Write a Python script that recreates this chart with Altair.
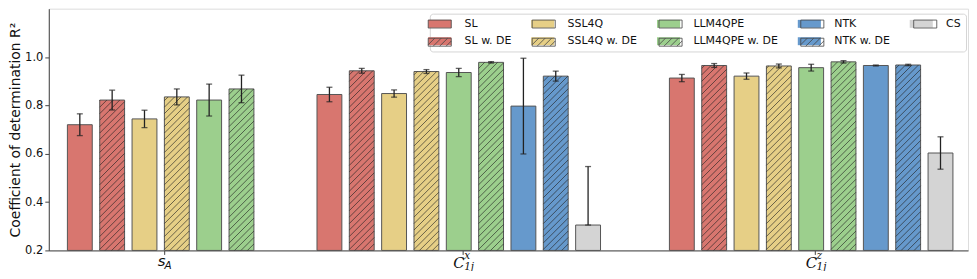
import altair as alt
import pandas as pd

# ---------------- data ----------------
methods = ["SL", "SL w. DE", "SSL4Q", "SSL4Q w. DE", "LLM4QPE", "LLM4QPE w. DE",
           "NTK", "NTK w. DE", "CS"]
colors = {"SL": "#d8766f", "SL w. DE": "#d8766f",
          "SSL4Q": "#e6cf86", "SSL4Q w. DE": "#e6cf86",
          "LLM4QPE": "#9ccf8d", "LLM4QPE w. DE": "#9ccf8d",
          "NTK": "#6699cc", "NTK w. DE": "#6699cc",
          "CS": "#d4d4d4"}

group_keys = ["sA", "Cx", "Cz"]
group_main = ["s", "C", "C"]
group_sup = ["", "x", "z"]
group_sub = ["A", "1j", "1j"]
group_font = ["sans", "cal", "cal"]

sA_values = [0.720, 0.822, 0.744, 0.835, 0.822, 0.868]
sA_err_lo = [0.045, 0.041, 0.036, 0.033, 0.066, 0.057]
sA_err_hi = [0.045, 0.041, 0.036, 0.033, 0.066, 0.057]

Cx_values = [0.845, 0.943, 0.849, 0.940, 0.936, 0.978, 0.797, 0.921, 0.305]
Cx_err_lo = [0.030, 0.010, 0.015, 0.008, 0.017, 0.003, 0.198, 0.021, 0.000]
Cx_err_hi = [0.030, 0.010, 0.015, 0.008, 0.017, 0.003, 0.198, 0.021, 0.242]

Cz_values = [0.913, 0.965, 0.921, 0.963, 0.956, 0.980, 0.965, 0.967, 0.603]
Cz_err_lo = [0.015, 0.008, 0.013, 0.008, 0.014, 0.005, 0.002, 0.003, 0.067]
Cz_err_hi = [0.015, 0.008, 0.013, 0.008, 0.014, 0.005, 0.002, 0.003, 0.067]

# ---------------- layout constants ----------------
PLOT_W, PLOT_H = 924, 243
SLOT_PX = 32.5                      # px per bar slot
X_MAX = PLOT_W / SLOT_PX
Y_MIN, Y_MAX = 0.2, 1.2
PX_PER_Y = PLOT_H / (Y_MAX - Y_MIN)
BAR_W = 25 / SLOT_PX                # bar width in slot units
group_ticks = [3.58, 12.80, 23.70]  # group centres in slot units
TICK_SHIFT = 0.12
HATCH_PX = 6.5

# ---------------- build tables ----------------
rows = []
for key, tick, vals, elo, ehi in zip(group_keys, group_ticks,
                                    [sA_values, Cx_values, Cz_values],
                                    [sA_err_lo, Cx_err_lo, Cz_err_lo],
                                    [sA_err_hi, Cx_err_hi, Cz_err_hi]):
    n = len(vals)
    for k, (v, lo, hi) in enumerate(zip(vals, elo, ehi)):
        pos = tick - TICK_SHIFT + (k - (n - 1) / 2)
        rows.append(dict(group=key, method=methods[k], pos=pos,
                         x0=pos - BAR_W / 2, x1=pos + BAR_W / 2,
                         value=v, lo=v - lo, hi=v + hi,
                         hatched=methods[k].endswith("w. DE")))
bars = pd.DataFrame(rows)

# hatch segments ("///") clipped to each hatched bar, derived from bar extents
hseg = []
for r in bars[bars.hatched].itertuples():
    W = BAR_W * SLOT_PX
    H = (r.value - Y_MIN) * PX_PER_Y
    X0 = r.x0 * SLOT_PX
    t = -W
    while t < H:
        ys, ye = max(t, 0.0), min(t + W, H)
        if ys < ye:
            hseg.append(dict(hx=(X0 + ys - t) / SLOT_PX, hx2=(X0 + ye - t) / SLOT_PX,
                             hy=Y_MIN + ys / PX_PER_Y, hy2=Y_MIN + ye / PX_PER_Y))
        t += HATCH_PX
hatch = pd.DataFrame(hseg)

labels = pd.DataFrame(dict(tick=group_ticks, main=group_main, sup=group_sup,
                           sub=group_sub, font=group_font))

# legend patch paths (symbolSize 64 -> 4 px per path unit)
HW, HH = 2.9, 1.0
plain_path = f"M{-HW},{-HH}H{HW}V{HH}H{-HW}Z"
segs = []
t = -HW - 2
while t < HW:
    s0 = max(0.0, (-HW - t) / 2)
    s1 = min(1.0, (HW - t) / 2)
    if s0 < s1:
        segs.append(f"M{t + 2 * s0:.3f},{HH - 2 * s0:.3f}L{t + 2 * s1:.3f},{HH - 2 * s1:.3f}")
    t += HATCH_PX / 4
hatch_path = plain_path + "".join(segs)
# outline legend: one extra blank entry keeps it a separate legend from the colour one
outline_domain = methods + [" "]
outline_range = [hatch_path if m.endswith("w. DE") else plain_path for m in methods] + ["M0,0"]

# ---------------- chart ----------------
xscale = alt.Scale(domain=[0, X_MAX], nice=False, zero=False)
yscale = alt.Scale(domain=[Y_MIN, Y_MAX], nice=False, zero=False)
cscale = alt.Scale(domain=methods, range=[colors[m] for m in methods])
bar_order = sorted(methods)
fscale = alt.Scale(domain=bar_order, range=[colors[m] for m in bar_order])

common = dict(title=None, orient="none", legendX=383, legendY=5, columns=5,
              symbolSize=64, symbolOpacity=1, labelFontSize=11, labelFont="DejaVu Sans",
              labelColor="#111", labelOffset=19.5, columnPadding=18.5,
              rowPadding=5.7, padding=4.5)
color_legend = alt.Legend(**common, strokeColor="#d5d5d5", fillColor="white",
                          cornerRadius=3)
outline_legend = alt.Legend(**common, labelOpacity=0, symbolStrokeWidth=0.8)

base = alt.Chart(bars)

bar_layer = base.mark_bar(stroke="#555", strokeWidth=1, opacity=1).encode(
    x=alt.X("x0:Q", scale=xscale,
            axis=alt.Axis(values=group_ticks, labels=False, title=None, tickSize=4,
                          grid=False, domainColor="#444", tickColor="#444")),
    x2="x1:Q",
    y=alt.Y("value:Q", scale=yscale,
            axis=alt.Axis(values=[0.2, 0.4, 0.6, 0.8, 1.0], format=".1f", grid=False,
                          title="Coefficient of determination R²", titleFontSize=14,
                          titleFontWeight="normal", titleFont="DejaVu Sans",
                          titlePadding=2, labelFontSize=11.5, labelFont="DejaVu Sans",
                          labelColor="#111", tickSize=4, domainColor="#444",
                          tickColor="#444", labelPadding=2, titleColor="#111")),
    y2=alt.Y2(datum=Y_MIN),
    fill=alt.Fill("method:N", scale=fscale, legend=None),
)

hatch_layer = alt.Chart(hatch).mark_rule(color="#222", strokeWidth=0.8, opacity=0.8).encode(
    x=alt.X("hx:Q", scale=xscale), x2="hx2:Q",
    y=alt.Y("hy:Q", scale=yscale), y2="hy2:Q",
)

err_layer = base.mark_rule(color="#222", strokeWidth=1.3).encode(
    x=alt.X("pos:Q", scale=xscale), y=alt.Y("lo:Q", scale=yscale), y2="hi:Q")
cap_hi = base.mark_tick(color="#222", thickness=1.3, size=6, orient="horizontal").encode(
    x=alt.X("pos:Q", scale=xscale), y=alt.Y("hi:Q", scale=yscale))
cap_lo = base.mark_tick(color="#222", thickness=1.3, size=6, orient="horizontal").encode(
    x=alt.X("pos:Q", scale=xscale), y=alt.Y("lo:Q", scale=yscale))

# colour legend (filled patches) - invisible points
legend_fill_layer = base.mark_point(filled=True, opacity=0, shape=plain_path).encode(
    x=alt.X("pos:Q", scale=xscale), y=alt.Y("value:Q", scale=yscale),
    color=alt.Color("method:N", scale=cscale, legend=color_legend),
)
# outline + hatch legend drawn on top of the colour legend
legend_outline_layer = base.mark_point(filled=False, opacity=0, color="#444",
                                       strokeWidth=0.8).encode(
    x=alt.X("pos:Q", scale=xscale), y=alt.Y("value:Q", scale=yscale),
    shape=alt.Shape("method:N", scale=alt.Scale(domain=outline_domain, range=outline_range),
                    legend=outline_legend),
)

lab = alt.Chart(labels)
main_sans = lab.transform_filter(alt.datum.font == "sans").mark_text(
    font="DejaVu Sans", fontStyle="italic", fontSize=15, align="right", baseline="alphabetic",
    dx=1, dy=16, color="#111").encode(
    x=alt.X("tick:Q", scale=xscale), y=alt.datum(Y_MIN), text="main:N")
main_cal = lab.transform_filter(alt.datum.font == "cal").mark_text(
    font="DejaVu Serif", fontStyle="italic", fontSize=15, align="right", baseline="alphabetic",
    dx=2, dy=18, color="#111").encode(
    x=alt.X("tick:Q", scale=xscale), y=alt.datum(Y_MIN), text="main:N")
sub_sans = lab.transform_filter(alt.datum.font == "sans").mark_text(
    font="DejaVu Sans", fontStyle="italic", fontSize=10.5, align="left", baseline="alphabetic",
    dx=0, dy=19, color="#111").encode(
    x=alt.X("tick:Q", scale=xscale), y=alt.datum(Y_MIN), text="sub:N")
sub_cal = lab.transform_filter(alt.datum.font == "cal").mark_text(
    font="DejaVu Serif", fontStyle="italic", fontSize=10.5, align="left", baseline="alphabetic",
    dx=1.5, dy=20, color="#111").encode(
    x=alt.X("tick:Q", scale=xscale), y=alt.datum(Y_MIN), text="sub:N")
sup_cal = lab.transform_filter(alt.datum.font == "cal").mark_text(
    font="DejaVu Serif", fontStyle="italic", fontSize=10.5, align="left", baseline="alphabetic",
    dx=1.5, dy=9, color="#111").encode(
    x=alt.X("tick:Q", scale=xscale), y=alt.datum(Y_MIN), text="sup:N")

chart = alt.layer(
    bar_layer, hatch_layer, err_layer, cap_hi, cap_lo,
    legend_fill_layer, legend_outline_layer,
    main_sans, main_cal, sub_sans, sub_cal, sup_cal
).properties(
    width=PLOT_W, height=PLOT_H,
    autosize=alt.AutoSizeParams(type="none"),
    padding={"left": 41, "top": 0, "right": 1, "bottom": 20},
).configure_view(stroke="#444", strokeWidth=1).configure(font="DejaVu Sans")

chart.save("out.html", embed_options={"renderer": "svg", "actions": False})
